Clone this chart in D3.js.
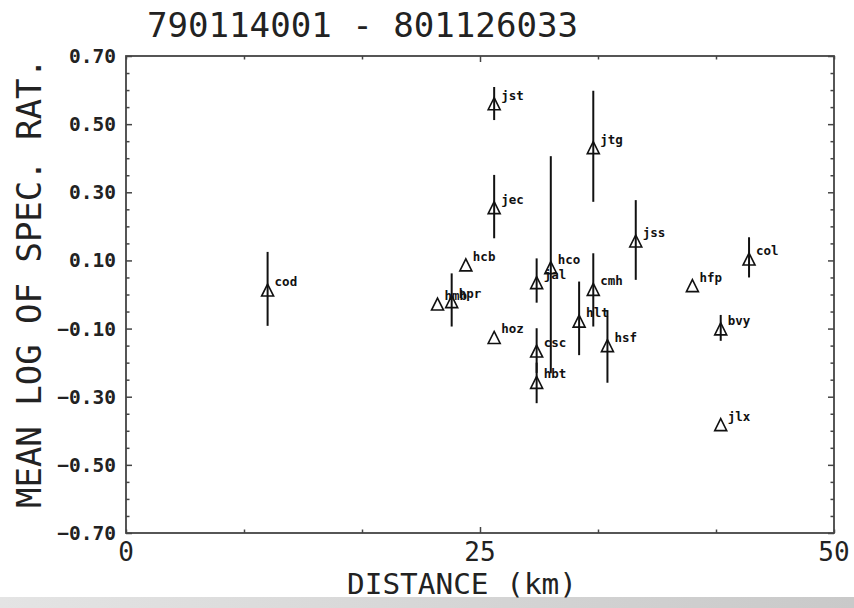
<!DOCTYPE html>
<html>
<head>
<meta charset="utf-8">
<script src="https://cdn.jsdelivr.net/npm/d3@7"></script>
<style>
html,body{margin:0;padding:0;background:#fff;}
svg{display:block;}
</style>
</head>
<body>
<svg id="chart" width="854" height="608"></svg>
<script>
// ---- data ----
const stations = ["cod","hmb","hpr","hcb","jst","jec","hoz","jal","csc","hbt","hco","hlt","jtg","cmh","hsf","jss","hfp","bvy","jlx","col"];
const distances = [10, 22, 23, 24, 26, 26, 26, 29, 29, 29, 30, 32, 33, 33, 34, 36, 40, 42, 42, 44];
const means =     [0.013, -0.028, -0.021, 0.087, 0.560, 0.255, -0.126, 0.035, -0.166, -0.258, 0.079, -0.078, 0.431, 0.015, -0.150, 0.157, 0.026, -0.101, -0.382, 0.104];
const upper =     [0.125, null, 0.062, null, 0.609, 0.351, null, 0.106, -0.099, -0.200, 0.406, 0.038, 0.598, 0.121, -0.046, 0.277, null, -0.060, null, 0.168];
const lower =     [-0.092, null, -0.094, null, 0.512, 0.165, null, -0.024, -0.230, -0.319, -0.231, -0.178, 0.272, -0.094, -0.259, 0.043, null, -0.136, null, 0.050];
const xTickLabels = [0, 25, 50];
const yTickLabels = [0.70, 0.50, 0.30, 0.10, -0.10, -0.30, -0.50, -0.70];
const titleText = "790114001 - 801126033";
const xTitle = "DISTANCE (km)";
const yTitle = "MEAN LOG OF SPEC. RAT.";

// ---- layout ----
const svg = d3.select("#chart");
const L = 126, R = 834, T = 56, B = 533;
const x = d3.scaleLinear().domain([0, 50]).range([L, R]);
const y = d3.scaleLinear().domain([-0.70, 0.70]).range([B, T]);

// scan-like grey band at bottom
const defs = svg.append("defs");
const grad = defs.append("linearGradient").attr("id","band").attr("x1","0").attr("x2","1").attr("y1","0").attr("y2","0");
grad.append("stop").attr("offset","0").attr("stop-color","#e4e4e4");
grad.append("stop").attr("offset","1").attr("stop-color","#c9c9c9");
svg.append("rect").attr("x",0).attr("y",597).attr("width",854).attr("height",11).attr("fill","url(#band)");

const mono = "'DejaVu Sans Mono', monospace";

// title
svg.append("text").attr("x", 147).attr("y", 37)
  .attr("font-family", mono).attr("font-size", 34).attr("fill", "#222")
  .attr("textLength", 431).attr("lengthAdjust", "spacingAndGlyphs")
  .text(titleText);

// frame
const frameColor = "#444";
svg.append("rect").attr("x", L).attr("y", T).attr("width", R - L).attr("height", B - T)
  .attr("fill", "none").attr("stroke", frameColor).attr("stroke-width", 1.8);

// y ticks (inside, left & right)
const yMinor = d3.range(-14, 15).map(k => k * 0.05);
const isMajorY = v => yTickLabels.some(t => Math.abs(t - v) < 1e-6);
const yAxisL = d3.axisRight(y).tickValues(yMinor).tickFormat("").tickSizeOuter(0);
const gyl = svg.append("g").attr("transform", `translate(${L},0)`).call(yAxisL);
gyl.select(".domain").remove();
gyl.selectAll(".tick line").attr("x2", d => isMajorY(d) ? 6 : 3.5).attr("stroke", frameColor).attr("stroke-width", 1.5);
const yAxisR = d3.axisLeft(y).tickValues(yMinor).tickFormat("").tickSizeOuter(0);
const gyr = svg.append("g").attr("transform", `translate(${R},0)`).call(yAxisR);
gyr.select(".domain").remove();
gyr.selectAll(".tick line").attr("x2", d => isMajorY(d) ? -6 : -3.5).attr("stroke", frameColor).attr("stroke-width", 1.5);

// y tick labels
svg.append("g").selectAll("text").data(yTickLabels).join("text")
  .attr("x", 116).attr("y", d => y(d)).attr("dy", "0.36em")
  .attr("text-anchor", "end").attr("font-family", mono).attr("font-weight", "bold")
  .attr("font-size", 19.5).attr("fill", "#222")
  .text(d => d3.format(".2f")(d));

// x ticks (inside, top & bottom)
const xMinor = d3.range(0, 7).map(k => k * 50 / 6);
const xAxisB = d3.axisTop(x).tickValues(xMinor).tickFormat("").tickSizeOuter(0);
const gxb = svg.append("g").attr("transform", `translate(0,${B})`).call(xAxisB);
gxb.select(".domain").remove();
gxb.selectAll(".tick line").attr("y2", d => Math.abs(d - 25) < 1e-6 ? -6 : -3.5).attr("stroke", frameColor).attr("stroke-width", 1.5);
const xAxisT = d3.axisBottom(x).tickValues(xMinor).tickFormat("").tickSizeOuter(0);
const gxt = svg.append("g").attr("transform", `translate(0,${T})`).call(xAxisT);
gxt.select(".domain").remove();
gxt.selectAll(".tick line").attr("y2", d => Math.abs(d - 25) < 1e-6 ? 6 : 3.5).attr("stroke", frameColor).attr("stroke-width", 1.5);

// x tick labels
svg.append("g").selectAll("text").data(xTickLabels).join("text")
  .attr("x", d => x(d)).attr("y", 561)
  .attr("text-anchor", "middle").attr("font-family", mono)
  .attr("font-size", 26).attr("fill", "#222")
  .text(d => d);

// axis titles
svg.append("text").attr("x", 462).attr("y", 594).attr("text-anchor", "middle")
  .attr("font-family", mono).attr("font-size", 29).attr("fill", "#222")
  .attr("textLength", 230).attr("lengthAdjust", "spacingAndGlyphs")
  .text(xTitle);
svg.append("text").attr("transform", "translate(41,283) rotate(-90)").attr("text-anchor", "middle")
  .attr("font-family", mono).attr("font-size", 34).attr("fill", "#222")
  .attr("textLength", 450).attr("lengthAdjust", "spacingAndGlyphs")
  .text(yTitle);

// data
const pts = stations.map((s, i) => ({ s, d: distances[i], m: means[i], u: upper[i], l: lower[i] }));
const gp = svg.append("g");
gp.selectAll("line.err").data(pts.filter(p => p.u !== null)).join("line")
  .attr("class", "err")
  .attr("x1", p => x(p.d)).attr("x2", p => x(p.d))
  .attr("y1", p => y(p.u)).attr("y2", p => y(p.l))
  .attr("stroke", "#111").attr("stroke-width", 2);
gp.selectAll("path.tri").data(pts).join("path")
  .attr("class", "tri")
  .attr("transform", p => `translate(${x(p.d)},${y(p.m)})`)
  .attr("d", "M0,-6L6,6L-6,6Z")
  .attr("fill", "none").attr("stroke", "#111").attr("stroke-width", 1.6).attr("stroke-linejoin", "miter");
gp.selectAll("text.lab").data(pts).join("text")
  .attr("class", "lab")
  .attr("x", p => x(p.d) + 7).attr("y", p => y(p.m) - 4)
  .attr("font-family", mono).attr("font-weight", "bold").attr("font-size", 12.5).attr("fill", "#111")
  .text(p => p.s);
</script>
</body>
</html>
